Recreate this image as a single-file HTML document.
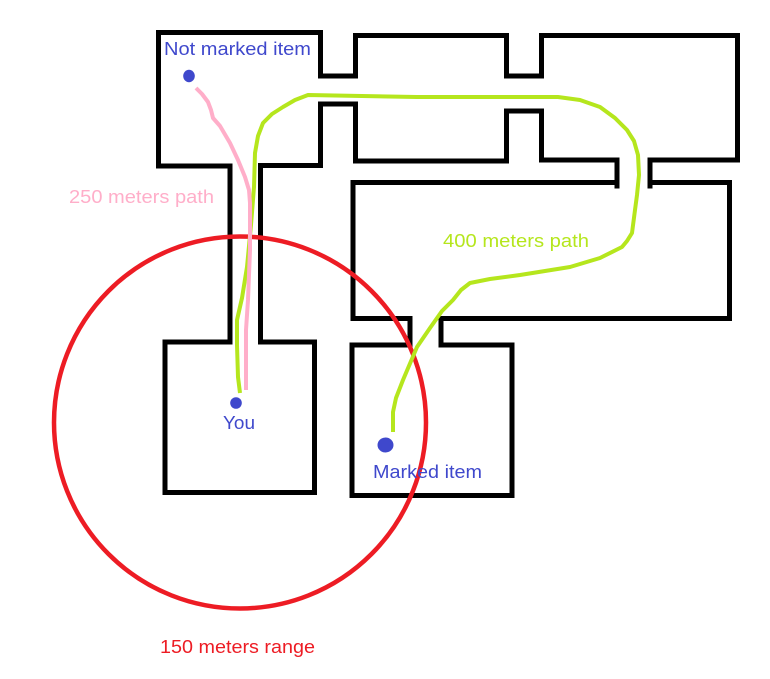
<!DOCTYPE html>
<html><head><meta charset="utf-8"><style>
html,body{margin:0;padding:0;background:#fff}
svg{display:block}
text{font-family:"Liberation Sans","DejaVu Sans",sans-serif;font-size:18px}
</style></head><body>
<svg width="770" height="679" viewBox="0 0 770 679" xmlns="http://www.w3.org/2000/svg">
<rect width="770" height="679" fill="#fff"/>
<g fill="none" stroke="#000" stroke-width="5" stroke-linejoin="miter" stroke-linecap="square">
<path d="M230 339V166H158.500V32.500H320.500V76H355.500V35.500H506.500V76H541.500V35.500H737.500V160H650"/>
<path d="M650 160V186"/>
<path d="M650 182.500H729.500V318.500H441V345H512V495.500H352V345H410V318.500H353V182.500H617"/>
<path d="M617 160V186"/>
<path d="M617 160H541.500V111H506.500V161H355.500V104H320.500V165.500H260.500V340"/>
<path d="M230 342H165V492.500H314.500V342H260.500"/>
</g>
<circle cx="240" cy="422.500" r="186" fill="none" stroke="#ed1c24" stroke-width="4.500"/>
<polyline points="240,393 238,377 237,345 237,320 242,298 247,267 251,225 254,187 255,153 258,136 263,123 272,114 283,107 295,100 308,95 417,97 558,97 580,100 600,107 615,118 627,130 634,141 638,155 639,175 637,195 635,210 632,233 627,241 622,247 600,258 570,267 520,275 490,279 470,283 461,290 453,300 442,311 430,328 417,347 403,380 396,398 393,412 393,432" fill="none" stroke="#b5e61d" stroke-width="4" stroke-linejoin="round"/>
<polyline points="196,88 202,94 208,102 211,110 213,118 220,126 230,143 238,160 245,177 249,190 250,203 250,250 249,275 248,300 246,330 246,390" fill="none" stroke="#ffaec9" stroke-width="4" stroke-linejoin="round"/>
<g fill="#3f48cc">
<ellipse cx="189" cy="76" rx="5.800" ry="6.200"/>
<ellipse cx="236" cy="403" rx="5.800" ry="5.800"/>
<ellipse cx="385.500" cy="445" rx="8" ry="7.500"/>
</g>
<text x="164" y="55" textLength="147" lengthAdjust="spacingAndGlyphs" fill="#3f48cc">Not marked item</text>
<text x="223" y="429" textLength="32" lengthAdjust="spacingAndGlyphs" fill="#3f48cc">You</text>
<text x="373" y="478" textLength="109" lengthAdjust="spacingAndGlyphs" fill="#3f48cc">Marked item</text>
<text x="69" y="203" textLength="145" lengthAdjust="spacingAndGlyphs" fill="#ffaec9">250 meters path</text>
<text x="443" y="247" textLength="146" lengthAdjust="spacingAndGlyphs" fill="#b5e61d">400 meters path</text>
<text x="160" y="653" textLength="155" lengthAdjust="spacingAndGlyphs" fill="#ed1c24">150 meters range</text>
</svg>
</body></html>
